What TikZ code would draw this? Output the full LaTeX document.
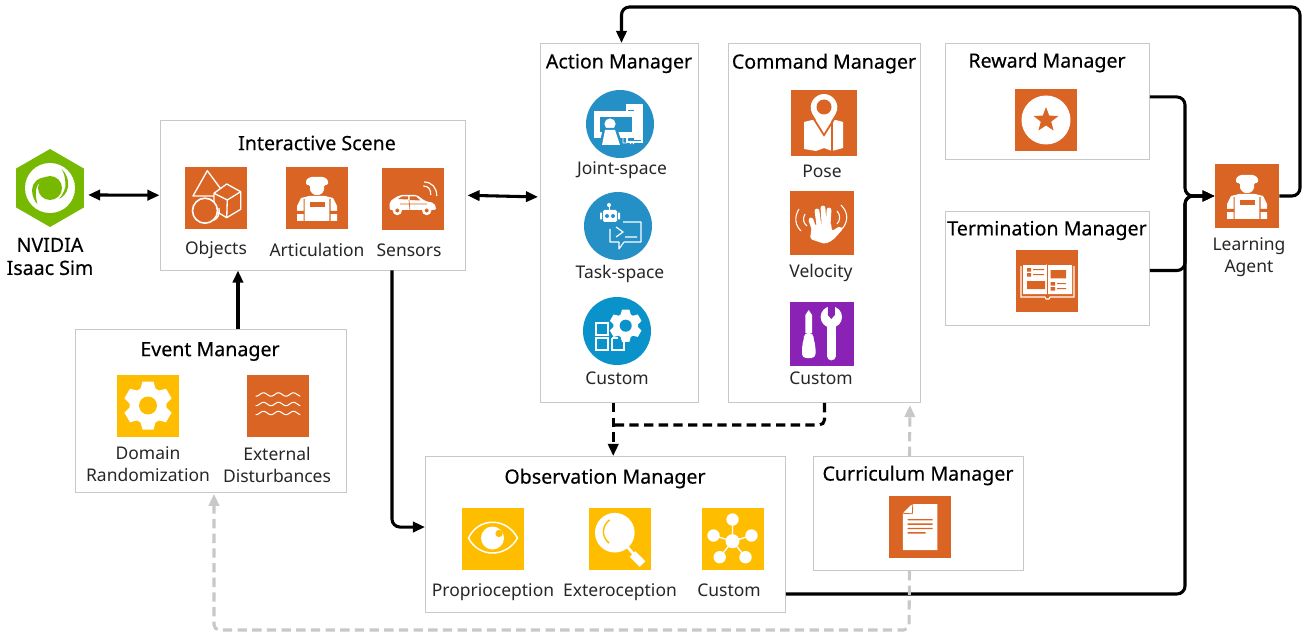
\documentclass[tikz,border=0pt]{standalone}
\usepackage{fontspec}
\setmainfont{Noto Sans}
\newfontfamily\titlefont[FakeBold=0.3]{Noto Sans}
\usetikzlibrary{arrows.meta,fit,shapes.geometric}
\definecolor{nvorange}{HTML}{DA6423}
\definecolor{nvyellow}{HTML}{FFBD00}
\definecolor{nvblue}{HTML}{2490C6}
\definecolor{nvteal}{HTML}{0A93CB}
\definecolor{nvpurple}{HTML}{8A22B5}
\definecolor{nvgreen}{HTML}{76B900}
\definecolor{boxgray}{HTML}{C8C8C8}
\tikzset{
  mgr/.style={draw=boxgray, line width=0.7pt, fill=white, inner sep=0pt},
  mgrtitle/.style={font=\titlefont\fontsize{14.7}{17}\selectfont, text=black, inner sep=0pt},
  lbl/.style={font=\fontsize{13.1}{16.5}\selectfont, text=black!85, inner sep=0pt, align=center},
  isaaclbl/.style={font=\titlefont\fontsize{14.7}{17.2}\selectfont, text=black, inner sep=0pt, align=center},
  sq/.style={minimum size=46.5pt, inner sep=0pt, fill=#1},
  disc/.style={circle, minimum size=51pt, inner sep=0pt, fill=#1},
  flow/.style={->, line width=2.3pt, rounded corners=6pt},
  dashflow/.style={flow, dash pattern=on 7pt off 4pt, rounded corners=4pt},
  greyflow/.style={flow, boxgray, dash pattern=on 7pt off 4pt, rounded corners=4pt},
  pics/gearicon/.style={code={
    \foreach \a in {0,60,...,300}
      \fill[white, rotate=\a] (-5.5,-24) -- (5.5,-24) -- (8,-15) -- (-8,-15) -- cycle;
    \fill[white] (0,0) circle[radius=18.5];
    \fill[#1] (0,0) circle[radius=9];
  }},
  shapesicon/.pic={
    \draw[white, line width=1pt, fill=nvorange, line join=round] (-8.7,-27.3) -- (-23,-2) -- (10,-2) -- cycle;
    \draw[white, line width=1pt, fill=nvorange, line join=round] (10.7,-14) -- (24.7,-6.3) -- (24.7,11.3) -- (10.7,19.7) -- (-2,12) -- (-2,-4.7) -- cycle;
    \draw[white, line width=1pt, line join=round] (-2,-4.7) -- (11.3,2) -- (24.7,-6.3) (11.3,2) -- (10.7,19.7);
    \draw[white, line width=1.2pt, fill=nvorange] (-11,12.7) circle[radius=12.5];
    \draw[white, line width=1pt] (-3,22.5) .. controls (2,21) and (4,16) .. (3,10);
  },
  workericon/.pic={
    \fill[white, rounded corners=1pt] (-11,-13) -- (-11,-18) -- (-7,-21) -- (7,-21) -- (11,-18) -- (11,-13) -- (7,-13) -- (7,-7) -- (3,-3) -- (-3,-3) -- (-7,-7) -- (-7,-13) -- cycle;
    \fill[white] (-20,23) -- (-20,8) -- (-16,0) -- (-8,-2) -- (8,-2) -- (16,0) -- (20,8) -- (20,23) -- cycle;
    \fill[nvorange] (-13.5,1) rectangle (-12.3,24) (12.3,1) rectangle (13.5,24);
    \fill[nvorange] (-21,13) rectangle (-13,16) (13,13) rectangle (21,16);
    \fill[nvorange] (-7.5,4) rectangle (7.5,9);
  },
  caricon/.pic={
    \fill[white, rounded corners=1.5pt] (-23.5,11) -- (-23.5,3) -- (-20,0) -- (-13,-4) -- (4,-4) -- (12,2) -- (21,4) -- (23,8) -- (23,11) -- cycle;
    \fill[nvorange] (-15,0) -- (-11,-2.5) -- (-5,-2.5) -- (-5,0.5) -- cycle (-3.5,-2.5) -- (3,-2.5) -- (7.5,1.5) -- (-3.5,1) -- cycle;
    \draw[nvorange, line width=.5pt] (-4,1) -- (-3,12) (-13,5) -- (14,5);
    \draw[white, fill=nvorange, line width=1.8pt] (-15.7,11.5) circle[radius=3.4] (13.7,11.5) circle[radius=3.4];
    \draw[white, line width=.9pt] (10.3,-13) .. controls (16,-13) and (18,-9) .. (17.7,-4);
    \draw[white, line width=.9pt] (11,-17) .. controls (19,-17) and (24,-11) .. (23.7,-3);
  },
  jointicon/.pic={
    \draw[white, line width=.8pt, fill=nvblue] (7,-19) rectangle (22,18);
    \fill[white] (8,-19) rectangle (22,-14) (14,-19) rectangle (22,16);
    \draw[white, line width=.8pt, fill=nvblue] (-25,-12) rectangle (17,13);
    \draw[white, line width=.8pt] (-23,-10) rectangle (15,11) (-21,-8) rectangle (13,9);
    \fill[white] (-10,0) circle[radius=5.6];
    \fill[nvblue] (-21,22) -- (-17,4) -- (-3,4) -- (3,22) -- cycle;
    \fill[white] (-18,21) -- (-15,6) -- (-5,6) -- (0,21) -- cycle;
    \draw[white, line width=.7pt] (3,13) -- (3,19) -- (7,19) (10,20) -- (12,18) -- (14,20) (16,18) -- (21,18);
  },
  taskicon/.pic={
    \fill[white] (-9,-21) circle[radius=2];
    \draw[white, line width=.7pt] (-9,-20) -- (-9,-16);
    \fill[white, rounded corners=1pt] (-15,-16) rectangle (-1,-4) (-18,-14) rectangle (-16,-6) (0,-14) rectangle (2,-6);
    \fill[nvblue] (-11,-10) circle[radius=2] (-5,-10) circle[radius=2];
    \draw[white, line width=.8pt, line join=round] (5,-4) -- (23,-4) -- (23,16) -- (6,16) -- (1,23) -- (1,16) -- (-8,16) -- (-8,3);
    \draw[white, line width=.9pt] (-2,1) -- (5,6) -- (-2,11) (7,11) -- (19,11);
  },
  customicon/.pic={
    \pic at (8.7,-5.3) [scale=.67] {gearicon=nvteal};
    \draw[white, line width=.8pt] (-21,-8) rectangle (-9,4) (-21,7) rectangle (-9,19);
    \draw[white, line width=.8pt] (-5,7) -- (-5,19) -- (7,19) -- (7,10);
    \draw[white, line width=.8pt] (-5,7) -- (1,7);
  },
  poseicon/.pic={
    \fill[white] (-20,-1) -- (-8,-4) -- (0,9) -- (8,-4) -- (19,-1) -- (19,25) -- (8,28) -- (0,25) -- (-8,28) -- (-20,26) -- cycle;
    \fill[nvorange] (7,-5) rectangle (8.5,29);
    \draw[nvorange, line width=1.4pt] (-12,-7) -- (0,12) -- (12,-7);
    \fill[nvorange] (-14,-18) rectangle (14,-3);
    \fill[white] (0,10) -- (-11.5,-9) .. controls (-17,-19) and (-9,-29) .. (0,-29) .. controls (9,-29) and (17,-19) .. (11.5,-9) -- cycle;
    \fill[nvorange] (0,-16) circle[radius=7.5];
  },
  handicon/.pic={
    \draw[white, line width=3.6pt, line cap=round] (-11,-3) -- (-8,6) (-5,-12) -- (-3,3) (1,-15) -- (2,2) (7,-13) -- (6,4);
    \fill[white, rounded corners=1.5pt] (-10,2) -- (9,0) -- (10,8) -- (18,3) -- (21,6) -- (11,17) -- (3,21) -- (-12,16) -- cycle;
    \draw[white, line width=.8pt] (-17,-9) .. controls (-20,-4) and (-18,1) .. (-15,3) (-23,-14) .. controls (-28,-6) and (-27,2) .. (-21,8);
    \draw[white, line width=.8pt] (15,-12) .. controls (19,-8) and (18,-2) .. (15,1) (19,-18) .. controls (27,-10) and (26,-1) .. (20,6);
  },
  toolsicon/.pic={
    \fill[white] (-13.3,-24) -- (-10,-19) -- (-10,-1) -- (-16.6,-1) -- (-16.6,-19) -- cycle;
    \fill[white, rounded corners=3pt] (-18,-1) -- (-8.6,-1) -- (-8.6,6) -- (-6.5,11) -- (-6.5,24) -- (-20,24) -- (-20,11) -- (-18,6) -- cycle;
    \draw[white, line width=6.6pt, line cap=round] (9.3,-14) -- (9.3,22);
    \fill[white] (9.3,-17) circle[radius=10.7];
    \fill[nvpurple] (5.8,-29) -- (5.8,-19) -- (9.3,-15) -- (12.8,-19) -- (12.8,-29) -- cycle;
  },
  staricon/.pic={
    \fill[white] (0,0) circle[radius=24.5];
    \fill[nvorange] (0,-13) -- (3.2,-4.4) -- (12.4,-4) -- (5.2,1.7) -- (7.6,10.5) -- (0,5.5) -- (-7.6,10.5) -- (-5.2,1.7) -- (-12.4,-4) -- (-3.2,-4.4) -- cycle;
  },
  bookicon/.pic={
    \draw[white, line width=.8pt] (-26,-15) -- (-26,16) -- (-2,16) -- (-1,18) -- (2,18) -- (3,16) -- (27,16) -- (27,-15);
    \fill[white] (-24,-16) -- (-1,-16) -- (0,-17) -- (1,-16) -- (25,-16) -- (25,13) -- (-24,13) -- cycle;
    \draw[nvorange, line width=.5pt] (0.5,-17) -- (0.5,13);
    \fill[nvorange] (-20,-13) rectangle (-16,-9.5) (-20,-8) rectangle (-16,-4.5);
    \fill[nvorange] (-14,-12) rectangle (-3,-11) (-14,-7) rectangle (-3,-6);
    \fill[nvorange] (3.7,-11) rectangle (19,-2.7) (-20,0) rectangle (-2,8);
    \fill[nvorange] (3.7,1) rectangle (8,4.5) (3.7,6) rectangle (8,9.5);
    \fill[nvorange] (10,2) rectangle (19,3) (10,7) rectangle (19,8);
  },
  wavesicon/.pic={
    \foreach \y in {-11,-1.5,7.5}
      \draw[white, line width=.8pt, line cap=round] plot[domain=-22:22, samples=50, smooth] (\x,{\y+1.7*cos(24*(\x+22))});
  },
  eyeicon/.pic={
    \draw[white, line width=1.1pt] (-24,-1) .. controls (-14,-22) and (14,-22) .. (25,-1) .. controls (14,19) and (-14,19) .. (-24,-1) -- cycle;
    \fill[white] (0,-1) circle[radius=11.5];
    \fill[nvyellow] (6.5,-5.5) circle[radius=3.6];
  },
  lensicon/.pic={
    \fill[white] (-4.7,-6.3) circle[radius=19.8];
    \draw[nvyellow, line width=1.1pt] (-10.5,4) .. controls (-18,-2) and (-18,-13) .. (-10,-19);
    \draw[white, line width=2pt] (8,8) -- (14,15);
    \draw[white, line width=6pt] (13,15) -- (23,25);
  },
  neticon/.pic={
    \draw[white, line width=1pt] (0,-19) -- (0,2.7) (-19,-3) -- (0,2.7) -- (19,-3) (-12.8,18.7) -- (0,2.7) -- (13,18.7);
    \fill[white] (0,2.7) circle[radius=7] (0,-19) circle[radius=6.2] (-19,-3) circle[radius=6.2] (19,-3) circle[radius=6.2] (-12.8,18.7) circle[radius=6.2] (13,18.7) circle[radius=6.2];
  },
  docicon/.pic={
    \fill[white] (-6.7,-23) -- (17.8,-23) -- (17.8,23) -- (-16.6,23) -- (-16.6,-13.7) -- cycle;
    \draw[nvorange, line width=.6pt] (-6.7,-23) -- (-7.2,-13.2) -- (-16.6,-13.7);
    \fill[white] (-15.5,-15) -- (-8.5,-15) -- (-8.5,-22) -- cycle;
    \fill[nvorange] (-11.9,-8) rectangle (13,-6.6) (-11.9,-3.6) rectangle (13,-2.2) (-11.9,.8) rectangle (13,2.2) (-11.9,5.2) rectangle (6,6.6);
  },
  swirlicon/.pic={
    \fill[white] (0,0) circle[radius=25];
    \fill[nvgreen] (0,0) circle[radius=12];
    \fill[nvgreen] (-3.3,-10.7) .. controls (-12,-11) and (-18,-5) .. (-18,2) .. controls (-18,8) and (-15,14) .. (-12.7,16) .. controls (-14,10) and (-15,4) .. (-13.5,0) .. controls (-12,-5) and (-8,-9) .. (-3.3,-10.7) -- cycle;
    \fill[nvgreen] (11.7,-19) .. controls (17,-14) and (19,-7) .. (18,-1) .. controls (17,5) and (13,9) .. (9,11) .. controls (13,6) and (16,1) .. (15.5,-5) .. controls (15,-11) and (14,-15) .. (11.7,-19) -- cycle;
  },
}
\begin{document}
\begin{tikzpicture}[x=0.75pt, y=-0.75pt, >={Stealth[length=3.2mm,width=2.7mm,inset=0pt]}]
  \useasboundingbox (0,0) rectangle (1307,638);
  \node[mgr, fit={(160,120.5) (465,270)}] (scene) {};
  \node[mgr, fit={(75,329.5) (346,492)}] (event) {};
  \node[mgr, fit={(540.5,43.5) (698.5,402.5)}] (action) {};
  \node[mgr, fit={(728.5,43.5) (920.5,402.5)}] (command) {};
  \node[mgr, fit={(945.5,43.5) (1149.5,159.5)}] (reward) {};
  \node[mgr, fit={(945.5,211.5) (1149.5,325.5)}] (termination) {};
  \node[mgr, fit={(425.5,456.5) (785.5,612.5)}] (observation) {};
  \node[mgr, fit={(813.5,456.5) (1023.5,570.5)}] (curriculum) {};

  \node[regular polygon, regular polygon sides=6, shape border rotate=30, minimum size=58.5pt, inner sep=0pt, fill=nvgreen] (isaac) at (50,188) {};
  \pic at (isaac.center) {swirlicon};
  \node[isaaclbl] (isaactext) at (50,256.5) {NVIDIA\\Isaac Sim};

  \node[mgrtitle] (scenetitle) at (317,143) {Interactive Scene};
  \node[sq=nvorange] (objects) at (216,198) {};
  \pic at (objects.center) {shapesicon};
  \node[sq=nvorange] (articulation) at (317,198) {};
  \pic at (articulation.center) {workericon};
  \node[sq=nvorange] (sensors) at (413,199) {};
  \pic at (sensors.center) {caricon};
  \node[lbl] (objectstext) at (216,250) {Objects};
  \node[lbl] (articulationtext) at (317,250) {Articulation};
  \node[lbl] (sensorstext) at (409,250) {Sensors};

  \node[mgrtitle] (eventtitle) at (210,351.5) {Event Manager};
  \node[sq=nvyellow] (domain) at (148,405.5) {};
  \pic at (domain.center) {gearicon=nvyellow};
  \node[sq=nvorange] (disturb) at (278,405.5) {};
  \pic at (disturb.center) {wavesicon};
  \node[lbl] (domaintext) at (148,464.5) {Domain\\Randomization};
  \node[lbl] (disturbtext) at (277,464.5) {External\\Disturbances};

  \node[mgrtitle] (actiontitle) at (619,63.5) {Action Manager};
  \node[disc=nvblue] (joint) at (620,124) {};
  \pic at (joint.center) {jointicon};
  \node[disc=nvblue] (task) at (618,226) {};
  \pic at (task.center) {taskicon};
  \node[disc=nvteal] (actcustom) at (617,331) {};
  \pic at (actcustom.center) {customicon};
  \node[lbl] (jointtext) at (622,170) {Joint-space};
  \node[lbl] (tasktext) at (620,274) {Task-space};
  \node[lbl] (actcustomtext) at (617,378.5) {Custom};

  \node[mgrtitle] (commandtitle) at (824,63.5) {Command Manager};
  \node[sq=nvorange, minimum size=49.5pt] (pose) at (824,123) {};
  \pic at (pose.center) {poseicon};
  \node[sq=nvorange, minimum size=48pt] (velocity) at (822,223) {};
  \pic at (velocity.center) {handicon};
  \node[sq=nvpurple, minimum size=48pt] (cmdcustom) at (822,334) {};
  \pic at (cmdcustom.center) {toolsicon};
  \node[lbl] (posetext) at (822,171) {Pose};
  \node[lbl] (velocitytext) at (821,273) {Velocity};
  \node[lbl] (cmdcustomtext) at (821,378.5) {Custom};

  \node[mgrtitle] (rewardtitle) at (1047,62.5) {Reward Manager};
  \node[sq=nvorange] (star) at (1046,120) {};
  \pic at (star.center) {staricon};
  \node[mgrtitle] (terminationtitle) at (1047,230.5) {Termination Manager};
  \node[sq=nvorange] (book) at (1047,281) {};
  \pic at (book.center) {bookicon};

  \node[sq=nvorange, minimum size=48pt] (agent) at (1247,196) {};
  \pic at (agent.center) {workericon};
  \node[lbl] (agenttext) at (1249,257) {Learning\\Agent};

  \node[mgrtitle] (observationtitle) at (605,478.5) {Observation Manager};
  \node[sq=nvyellow] (proprio) at (492.5,539) {};
  \pic at (proprio.center) {eyeicon};
  \node[sq=nvyellow] (extero) at (619.5,539) {};
  \pic at (extero.center) {lensicon};
  \node[sq=nvyellow] (obscustom) at (732.5,538.5) {};
  \pic at (obscustom.center) {neticon};
  \node[lbl] (propriotext) at (493,592) {Proprioception};
  \node[lbl] (exterotext) at (620,592) {Exteroception};
  \node[lbl] (obscustomtext) at (729,590) {Custom};

  \node[mgrtitle] (curriculumtitle) at (918,475.5) {Curriculum Manager};
  \node[sq=nvorange] (doc) at (919.5,527) {};
  \pic at (doc.center) {docicon};

  \coordinate (bus) at (1185,196);
  \coordinate (topright) at (1300,7);
  \coordinate (obsin) at (613,425);
  \coordinate (greyright) at (909,630);
  \coordinate (greyleft) at (214,630);

  \draw[flow, <->, rounded corners=0pt, shorten <=3pt] ([yshift=-5.2pt]isaac.east) -- (scene.west);
  \draw[flow, <->, rounded corners=0pt, shorten <=1.5pt, shorten >=1.5pt] (scene.east) -- ([yshift=19.5pt]action.west);
  \draw[flow] ([xshift=20.6pt]event.north) -- ([xshift=-55.9pt]scene.south);
  \draw[flow] ([xshift=59.6pt]scene.south) |- ([yshift=5.6pt]observation.west);
  \draw[flow] ([yshift=3.4pt]reward.east) -| (bus) -- (agent.west);
  \draw[flow] ([yshift=-1.5pt]termination.east) -| (bus) -- (agent.west);
  \draw[flow] ([yshift=-44.6pt]observation.east) -| (bus) -- (agent.west);
  \draw[flow] (agent.east) -| (topright) -| ([xshift=1.5pt]action.north);
  \draw[dashflow] ([xshift=-4.7pt]action.south) -- ([xshift=5.8pt]observation.north);
  \draw[dashflow, -] (command.south) |- (obsin);
  \draw[greyflow] ([xshift=-6.75pt]curriculum.north) -- ([xshift=-8.25pt, yshift=-1.5pt]command.south east);
  \draw[greyflow] ([xshift=-6.75pt]curriculum.south) -- (greyright) -- (greyleft) -- ([xshift=2.6pt, yshift=-1pt]event.south);
\end{tikzpicture}
\end{document}
